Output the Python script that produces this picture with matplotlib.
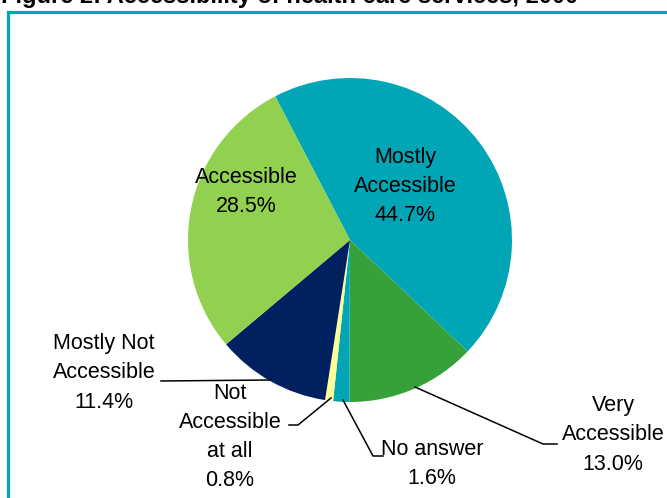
import matplotlib.pyplot as plt
from matplotlib.patches import Rectangle

# data
labels = ['Mostly\nAccessible', 'Very\nAccessible', 'No answer', 'Not\nAccessible\nat all',
          'Mostly Not\nAccessible', 'Accessible']
values = [44.7, 13.0, 1.6, 0.8, 11.4, 28.5]
colors = ['#00A6B6', '#36A13A', '#00A6B6', '#FFFF99', '#002060', '#92D050']

# label layout in image pixels (x, y from top)
label_pos = [(405, 186), (613, 435), (432, 464), (230, 437), (104, 373), (246, 192)]
leaders = [None,
           [(557, 444), (543, 444), (415, 387)],
           [(383, 456), (373, 456), (343, 400)],
           [(289, 425), (298, 425), (331, 398)],
           [(161, 381), (270, 380)],
           None]

W, H = 667, 498
plt.rcParams['font.family'] = ['Liberation Sans', 'DejaVu Sans']

fig = plt.figure(figsize=(W / 100, H / 100), dpi=100)
ax = fig.add_axes([0, 0, 1, 1])

ax.pie(values, colors=colors, startangle=117.5, counterclock=False,
       center=(350, H - 240), radius=162, wedgeprops=dict(linewidth=0))

ax.set_xlim(0, W)
ax.set_ylim(0, H)
ax.set_aspect('equal')
ax.axis('off')

# frame
ax.add_patch(Rectangle((7.5, -20), W + 20, H - 11.5 + 20, fill=False,
                       edgecolor='#00A6B6', linewidth=2.3, clip_on=False))

# title (partly cut off at top)
ax.text(1, H - 3, 'Figure 2: Accessibility of health care services, 2000',
        fontsize=17, fontweight='bold', ha='left', va='baseline')

for lab, val, (x, y), ld in zip(labels, values, label_pos, leaders):
    ax.text(x, H - y, f'{lab}\n{val:.1f}%', fontsize=15.5, ha='center', va='center',
            linespacing=1.5)
    if ld:
        ax.plot([p[0] for p in ld], [H - p[1] for p in ld], color='black', lw=1.1)

plt.savefig('out.png', dpi=100)
